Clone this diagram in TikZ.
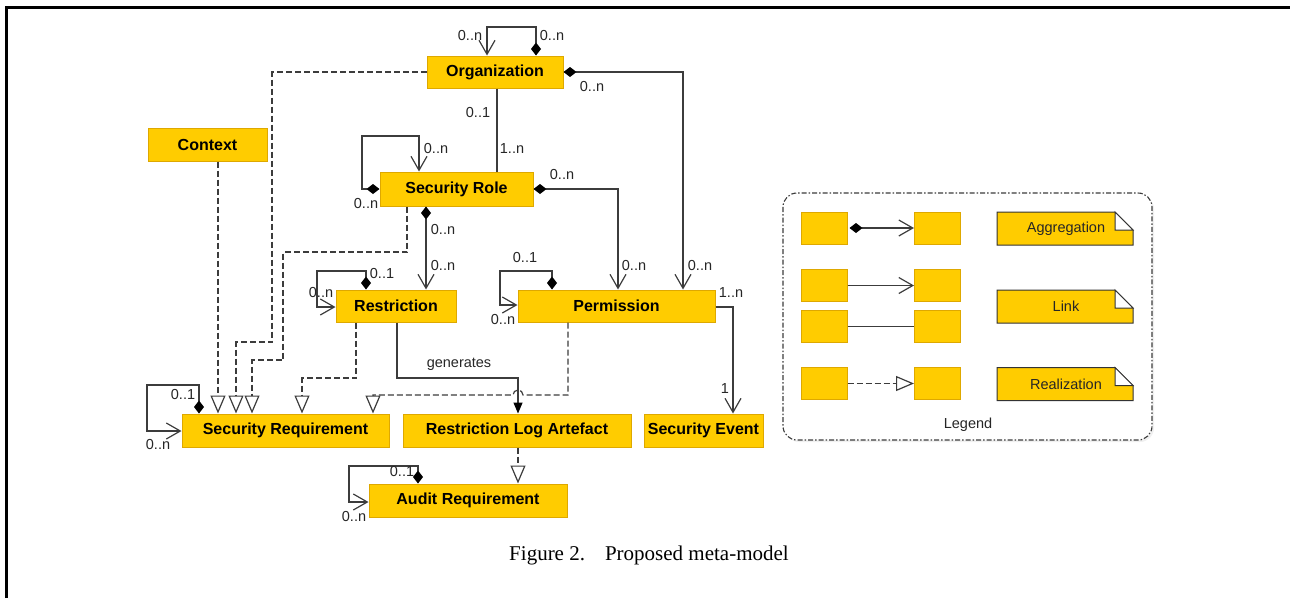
\documentclass[tikz,border=0pt]{standalone}
\usepackage{fontspec}
\setmainfont{Liberation Serif}
\setsansfont{Liberation Sans}
\usetikzlibrary{arrows.meta,shadows}

\newcommand\boxfont{\sffamily\bfseries\fontsize{16}{19}\selectfont}
\newcommand\lblfont{\sffamily\fontsize{14.5}{17}\selectfont}
\newcommand\capfont{\rmfamily\fontsize{21}{25}\selectfont}
\definecolor{boxfill}{RGB}{255,204,0}
\definecolor{boxline}{RGB}{222,168,0}
\definecolor{linegray}{RGB}{60,60,60}

\tikzset{
	dia/.tip={Diamond[length=13pt,width=10pt,fill=black,color=black]},
	barb/.tip={Straight Barb[length=14pt,width=16pt]},
	real/.tip={Triangle[length=18pt,width=15pt,fill=white]},
	gen/.tip={Triangle[length=11pt,width=9pt,fill=black,color=black]}
}

\begin{document}
\begin{tikzpicture}[x=1pt,y=-1pt,
		box/.style={draw=boxline,fill=boxfill,line width=1pt,font=\boxfont,inner sep=0pt},
		lbl/.style={font=\lblfont,text=black!85,inner sep=0pt},
		lnk/.style={draw=linegray,line width=1.2pt},
		dsh/.style={lnk,dash pattern=on 6pt off 3pt},
		minibox/.style={draw=boxline,fill=boxfill,line width=1pt,minimum width=46,minimum height=32,inner sep=0pt}]
	\useasboundingbox (0,0) rectangle (1290,598);
	% page frame
	\draw[line width=2.4pt] (6.5,598) -- (6.5,7.5) -- (1290,7.5);

	% classes
	\node[box,minimum width=136,minimum height=32] (org) at (495,72) {Organization};
	\node[box,minimum width=119,minimum height=33] (ctx) at (207.5,144.5) {Context};
	\node[box,minimum width=153,minimum height=34] (role) at (456.5,189) {Security Role};
	\node[box,minimum width=120,minimum height=32] (restr) at (396,306) {Restriction};
	\node[box,minimum width=197,minimum height=32] (perm) at (616.5,306) {Permission};
	\node[box,minimum width=207,minimum height=33] (secreq) at (285.5,430.5) {Security Requirement};
	\node[box,minimum width=228,minimum height=33] (logart) at (517,430.5) {Restriction Log Artefact};
	\node[box,minimum width=119,minimum height=33] (event) at (703.5,430.5) {Security Event};
	\node[box,minimum width=198,minimum height=33] (audit) at (468,500.5) {Audit Requirement};

	% aggregations and links
	\draw[lnk,dia-barb] (536,0 |- org.north) -- (536,27) -- (487,27) -- (487,0 |- org.north);
	\draw[lnk,dia-barb] (org.east) -- (683,0 |- org.east) -- (683,0 |- perm.north);
	\draw[lnk] (497,0 |- org.south) -- (497,0 |- role.north);
	\draw[lnk,dia-barb] (role.west) -- (362,0 |- role.west) -- (362,136) -- (419,136) -- (419,0 |- role.north);
	\draw[lnk,dia-barb] (role.east) -- (618,0 |- role.east) -- (618,0 |- perm.north);
	\draw[lnk,dia-barb] (426,0 |- role.south) -- (426,0 |- restr.north);
	\draw[lnk,dia-barb] (366,0 |- restr.north) -- (366,271) -- (317,271) -- (317,307) -- (restr.west |- 0,307);
	\draw[lnk,dia-barb] (552,0 |- perm.north) -- (552,271) -- (500,271) -- (500,305) -- (perm.west |- 0,305);
	\draw[lnk,-barb] (perm.east |- 0,307) -- (733,307) -- (733,0 |- event.north);
	\draw[lnk,-gen] (397,0 |- restr.south) -- (397,378) -- (518,378) -- (518,0 |- logart.north);
	\draw[lnk,dia-barb] (199,0 |- secreq.north) -- (199,385) -- (147,385) -- (147,431) -- (secreq.west |- 0,431);
	\draw[lnk,dia-barb] (418,0 |- audit.north) -- (418,466) -- (349,466) -- (349,502) -- (audit.west |- 0,502);

	% realizations
	\draw[dsh,-real] (218,0 |- ctx.south) -- (218,0 |- secreq.north);
	\draw[dsh,-real] (org.west) -- (272,0 |- org.west) -- (272,342) -- (236,342) -- (236,0 |- secreq.north);
	\draw[dsh,-real] (407,0 |- role.south) -- (407,252) -- (283,252) -- (283,360) -- (252,360) -- (252,0 |- secreq.north);
	\draw[dsh,-real] (356,0 |- restr.south) -- (356,378) -- (302,378) -- (302,0 |- secreq.north);
	\draw[dsh,-real] (568,0 |- perm.south) -- (568,395) -- (523,395) arc (0:-180:5) -- (373,395) -- (373,0 |- secreq.north);
	\draw[dsh,-real] (518,0 |- logart.south) -- (518,0 |- audit.north);

	% multiplicities
	\node[lbl] (m1) at (470,36) {0..n};
	\node[lbl] (m2) at (552,36) {0..n};
	\node[lbl] (m3) at (592,87) {0..n};
	\node[lbl] (m4) at (478,113) {0..1};
	\node[lbl] (m5) at (512,149) {1..n};
	\node[lbl] (m6) at (436,149) {0..n};
	\node[lbl] (m7) at (366,204) {0..n};
	\node[lbl] (m8) at (562,175) {0..n};
	\node[lbl] (m9) at (443,230) {0..n};
	\node[lbl] (m10) at (443,266) {0..n};
	\node[lbl] (m11) at (634,266) {0..n};
	\node[lbl] (m12) at (700,266) {0..n};
	\node[lbl] (m13) at (731,293) {1..n};
	\node[lbl] (m14) at (525,258) {0..1};
	\node[lbl] (m15) at (503,320) {0..n};
	\node[lbl] (m16) at (382,274) {0..1};
	\node[lbl] (m17) at (321,293) {0..n};
	\node[lbl] (m18) at (725,389) {1};
	\node[lbl] (m19) at (183,394) {0..1};
	\node[lbl] (m20) at (158,444) {0..n};
	\node[lbl] (m21) at (402,471) {0..1};
	\node[lbl] (m22) at (354,516) {0..n};
	\node[lbl] (gen) at (459,364) {generates};

	% legend
	\draw[draw=linegray,line width=1.1pt,fill=white,dash pattern=on 5pt off 2pt on 1.5pt off 2pt,rounded corners=14pt,
		drop shadow={shadow xshift=2pt,shadow yshift=-2pt,opacity=0.12}] (783,193) rectangle (1152,440);
	\node[minibox] (la1) at (824,228) {};
	\node[minibox] (lb1) at (937.5,228) {};
	\node[minibox] (la2) at (824,285.5) {};
	\node[minibox] (lb2) at (937.5,285.5) {};
	\node[minibox] (la3) at (824,326.5) {};
	\node[minibox] (lb3) at (937.5,326.5) {};
	\node[minibox] (la4) at (824,383.5) {};
	\node[minibox] (lb4) at (937.5,383.5) {};
	\draw[lnk,dia-barb] ([xshift=2pt]la1.east) -- (lb1.west);
	\draw[lnk,-barb] (la2.east) -- (lb2.west);
	\draw[lnk] (la3.east) -- (lb3.west);
	\draw[dsh,-real] (la4.east) -- (lb4.west);
	\foreach \nm/\y/\txt in {nagg/228.5/Aggregation,nlink/306.5/Link,nreal/384/Realization}{
		\filldraw[draw=black!80,fill=boxfill,line width=1pt] (997,\y-16.5) -- (1115,\y-16.5) -- (1133,\y+1.5) -- (1133,\y+16.5) -- (997,\y+16.5) -- cycle;
		\filldraw[draw=black!80,fill=white,line width=1pt] (1115,\y-16.5) -- (1133,\y+1.5) -- (1115,\y+1.5) -- cycle;
		\node[lbl] (\nm) at (1066,\y) {\txt};
	}
	\node[lbl] (leg) at (968,425) {Legend};

	% caption
	\node[font=\capfont,inner sep=0pt] (cap) at (649,555) {Figure 2.\hspace{20pt}Proposed meta-model};
\end{tikzpicture}
\end{document}
